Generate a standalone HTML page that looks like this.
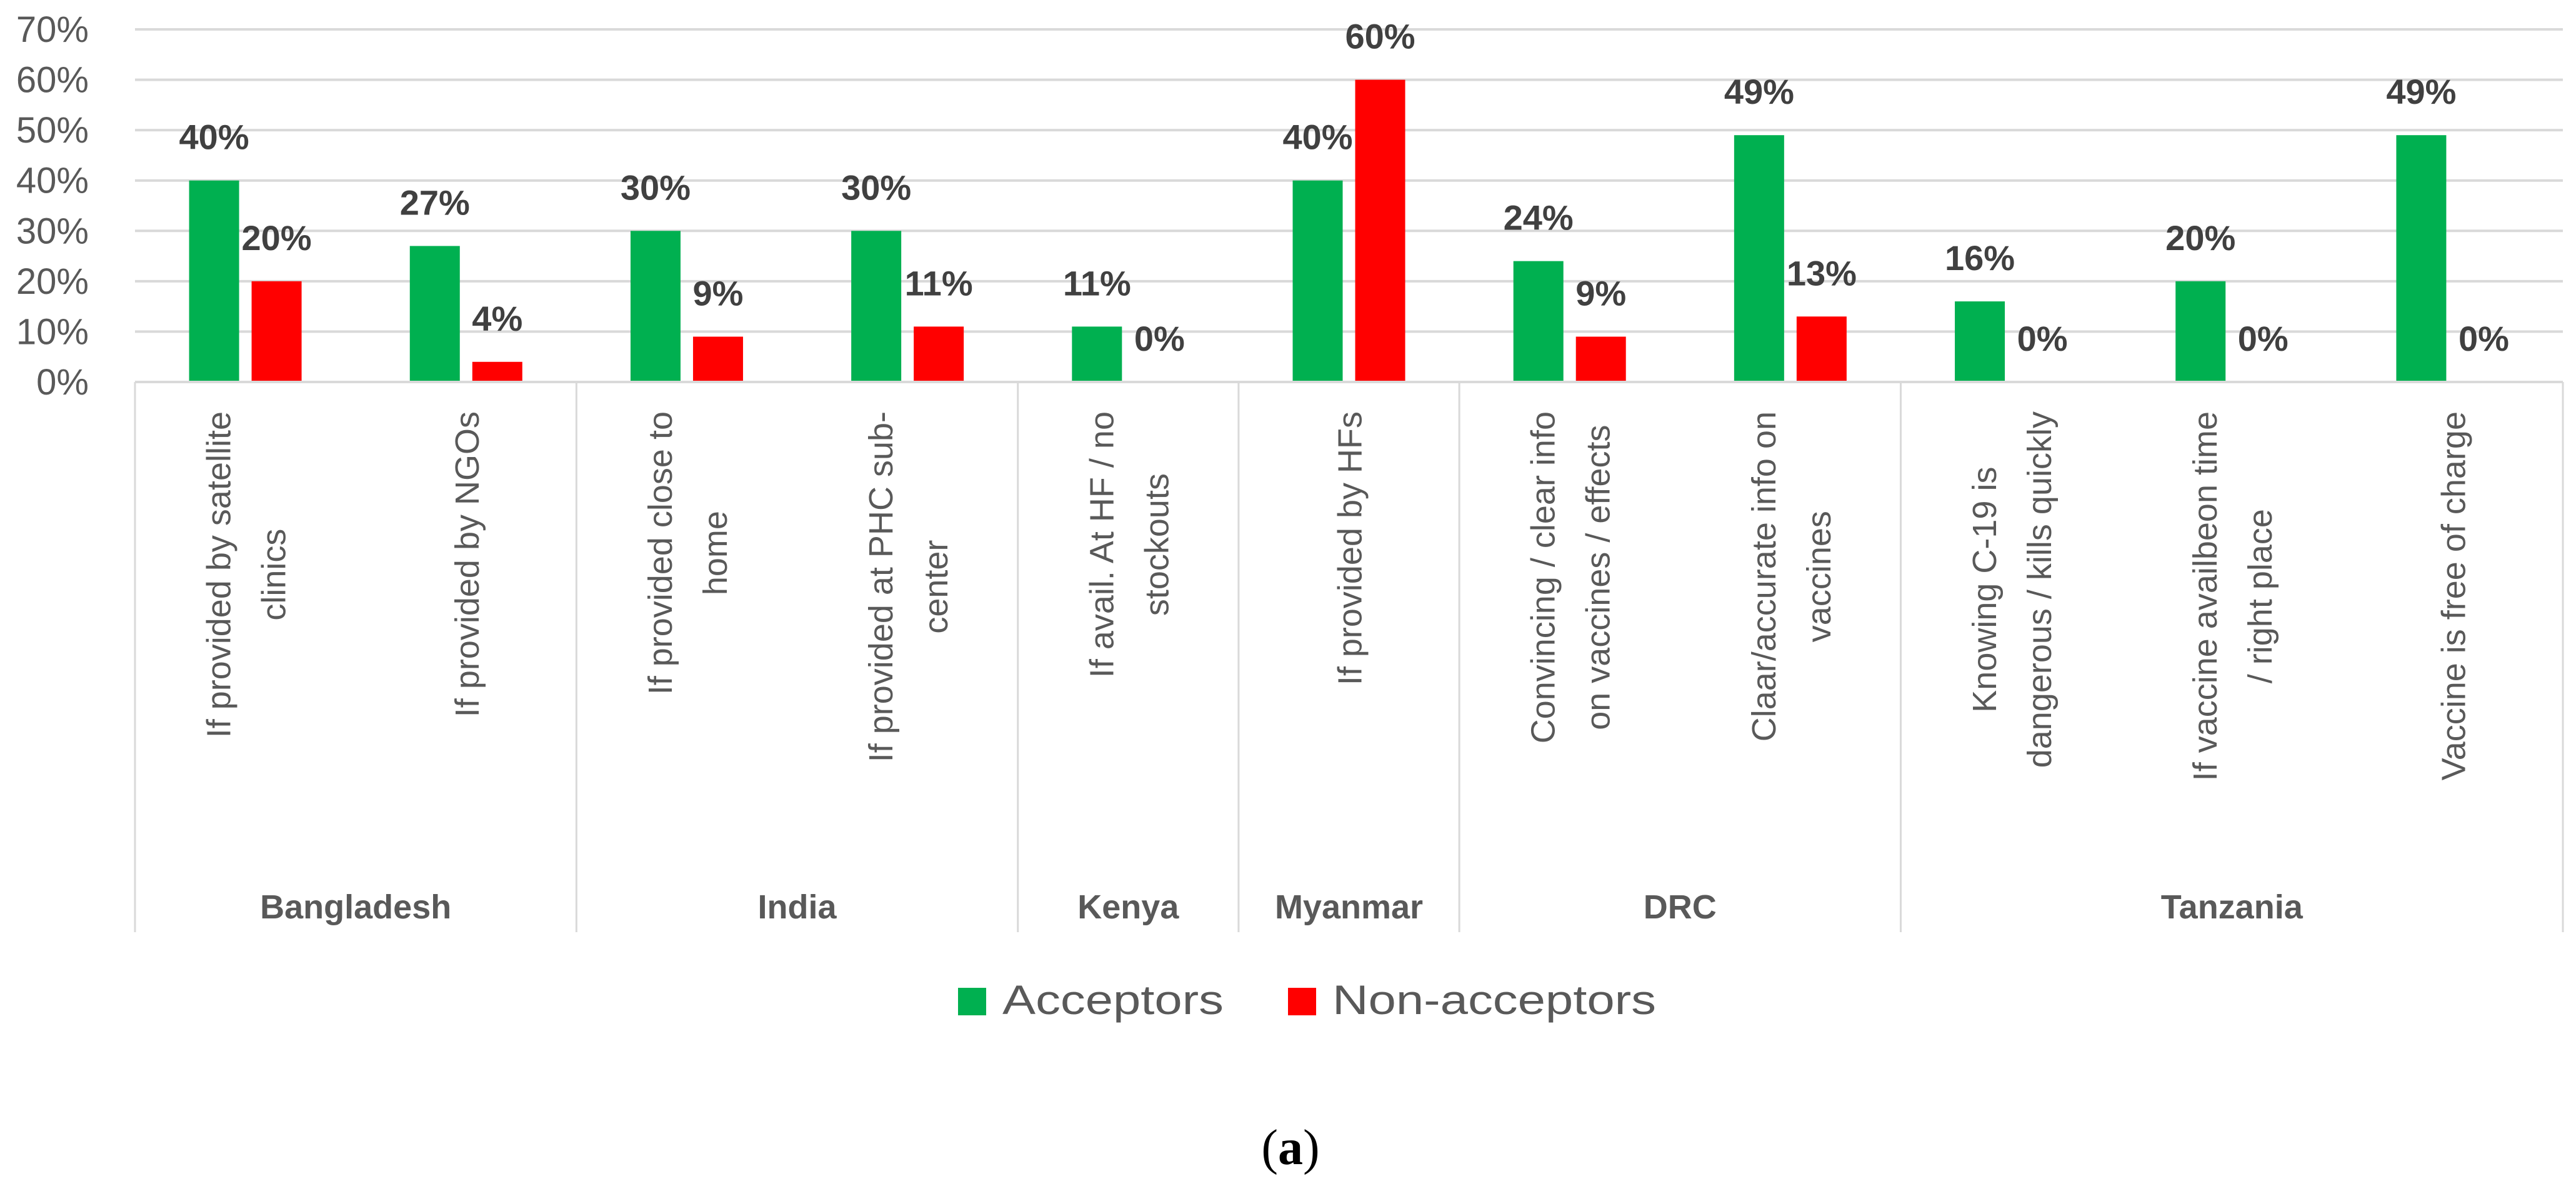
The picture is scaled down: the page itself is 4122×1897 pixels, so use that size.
<!DOCTYPE html>
<html><head><meta charset="utf-8"><style>
html,body{margin:0;padding:0;background:#fff;}
svg{display:block;}
text{font-family:"Liberation Sans",sans-serif;}
</style></head><body>
<svg id="chart" width="4122" height="1897" viewBox="0 0 4122 1897" xmlns="http://www.w3.org/2000/svg">
<g id="grid"></g>
<g id="yticks"></g>
<g id="bars"></g>
<g id="vlabels"></g>
<g id="xaxis"></g>
<g id="legend">
  <rect x="1533" y="1580" width="45" height="44" fill="#00b050"/>
  <text x="1604" y="1622" font-size="66" fill="#595959" textLength="354" lengthAdjust="spacingAndGlyphs">Acceptors</text>
  <rect x="2061" y="1580" width="45" height="44" fill="#ff0000"/>
  <text x="2132" y="1622" font-size="66" fill="#595959" textLength="518" lengthAdjust="spacingAndGlyphs">Non-acceptors</text>
</g>
<text x="2065" y="1862" font-size="80" text-anchor="middle" fill="#000" style="font-family:'Liberation Serif',serif">(<tspan font-weight="bold">a</tspan>)</text>
</svg>
<script>
const categories = [
  ["If provided by satellite","clinics"],
  ["If provided by NGOs"],
  ["If provided close to","home"],
  ["If provided at PHC sub-","center"],
  ["If avail. At HF / no","stockouts"],
  ["If provided by HFs"],
  ["Convincing / clear info","on vaccines / effects"],
  ["Claar/accurate info on","vaccines"],
  ["Knowing C-19 is","dangerous / kills quickly"],
  ["If vaccine availbeon time","/ right place"],
  ["Vaccine is free of charge"]
];
const acceptors = [40, 27, 30, 30, 11, 40, 24, 49, 16, 20, 49];
const nonAcceptors = [20, 4, 9, 11, 0, 60, 9, 13, 0, 0, 0];
const groupNames = ["Bangladesh","India","Kenya","Myanmar","DRC","Tanzania"];
const groupSizes = [2, 2, 1, 1, 2, 3];
const yTicks = [0, 10, 20, 30, 40, 50, 60, 70];

const NS = "http://www.w3.org/2000/svg";
const X0 = 216, X1 = 4101, Y0 = 611, YTOP = 47, YMAX = 70;
const catW = (X1 - X0) / categories.length;
const y = v => Y0 - (v / YMAX) * (Y0 - YTOP);
const cx = i => X0 + (i + 0.5) * catW;
function mk(tag, attrs, parent){ const e=document.createElementNS(NS,tag); for(const k in attrs) e.setAttribute(k, attrs[k]); parent.appendChild(e); return e; }

const grid = document.getElementById('grid'), yt = document.getElementById('yticks');
yTicks.forEach(t => {
  if (t > 0) {
    const l = mk('line', {x1:X0, x2:X1, y1:y(t), y2:y(t), stroke:'#d9d9d9', 'stroke-width':4}, grid);
    
    
  }
  const tx = mk('text', {x:142, y:y(t)+20, 'font-size':58, fill:'#595959', 'text-anchor':'end'}, yt);
  tx.textContent = t + '%';
  
  
});

const bars = document.getElementById('bars'), vl = document.getElementById('vlabels');
const BW = 80, GAP = 20;
categories.forEach((c, i) => {
  const gx = cx(i) - GAP/2 - BW, rx = cx(i) + GAP/2;
  const g = mk('rect', {x:gx, y:y(acceptors[i]), width:BW, height:Y0 - y(acceptors[i]), fill:'#00b050'}, bars);
  
  
  const r = mk('rect', {x:rx, y:y(nonAcceptors[i]), width:BW, height:Y0 - y(nonAcceptors[i]), fill:'#ff0000'}, bars);
  
  
  const t1 = mk('text', {x:gx + BW/2, y:y(acceptors[i]) - 50, 'font-size':56, 'font-weight':'bold', fill:'#404040', 'text-anchor':'middle'}, vl);
  t1.textContent = acceptors[i] + '%';
  
  
  const t2 = mk('text', {x:rx + BW/2, y:y(nonAcceptors[i]) - 50, 'font-size':56, 'font-weight':'bold', fill:'#404040', 'text-anchor':'middle'}, vl);
  t2.textContent = nonAcceptors[i] + '%';
  
  
});

const xa = document.getElementById('xaxis');
const ax = mk('line', {x1:X0, x2:X1, y1:Y0, y2:Y0, stroke:'#d9d9d9', 'stroke-width':4}, xa);


const LINE = 88, TOP = 658;
categories.forEach((lines, i) => {
  const texts = [];
  lines.forEach((ln, j) => {
    const x = cx(i) + (j - (lines.length - 1)/2) * LINE + 20;
    const t = mk('text', {'font-size':54, fill:'#595959', 'text-anchor':'middle'}, xa);
    t.textContent = ln;
    
    
    texts.push([t, x]);
  });
  let maxLen = 0;
  texts.forEach(([t]) => { maxLen = Math.max(maxLen, t.getComputedTextLength()); });
  const mid = TOP + maxLen/2;
  texts.forEach(([t, x]) => { t.setAttribute('transform', `translate(${x},${mid}) rotate(-90)`); });
});
let start = 0;
const dl = mk('line', {x1:X0, x2:X0, y1:Y0, y2:1491, stroke:'#d9d9d9', 'stroke-width':3}, xa);


groupNames.forEach((n, k) => {
  const end = start + groupSizes[k];
  const xe = X0 + end * catW;
  const d = mk('line', {x1:xe, x2:xe, y1:Y0, y2:1491, stroke:'#d9d9d9', 'stroke-width':3}, xa);
  
  
  const t = mk('text', {x:X0 + (start + end)/2 * catW, y:1469, 'font-size':54, 'font-weight':'bold', fill:'#595959', 'text-anchor':'middle'}, xa);
  t.textContent = n;
  
  
  start = end;
});
</script>
</body></html>
